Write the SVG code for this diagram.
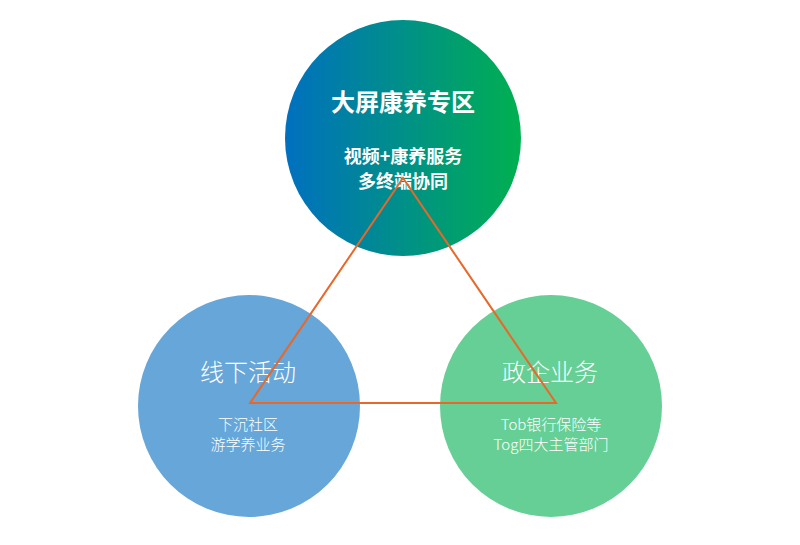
<svg xmlns="http://www.w3.org/2000/svg" width="800" height="545" viewBox="0 0 800 545">
<defs>
<linearGradient id="g" x1="0" y1="0" x2="1" y2="0">
<stop offset="0" stop-color="#0070c0"/><stop offset="1" stop-color="#00b050"/>
</linearGradient>
<style>
text{font-family:"Microsoft YaHei","Noto Sans CJK SC",sans-serif;fill:#fff;text-anchor:middle}
.b{font-weight:bold}
.t{font-size:24px;font-weight:300}
.s{font-size:15px;font-weight:300}
</style>
</defs>
<rect width="800" height="545" fill="#fff"/>
<g id="top"><circle cx="403" cy="138" r="118" fill="url(#g)"/>
<text class="b" x="403" y="111" font-size="24">大屏康养专区</text>
<text class="b" x="403" y="163" font-size="18">视频+康养服务</text>
<text class="b" x="403" y="188" font-size="18">多终端协同</text></g>
<g id="left"><circle cx="249" cy="406" r="111" fill="#66a6d8"/>
<text class="t" x="248" y="381">线下活动</text>
<text class="s" x="248" y="430">下沉社区</text>
<text class="s" x="248" y="450">游学养业务</text></g>
<g id="right"><circle cx="551" cy="406" r="111" fill="#66cf95"/>
<text class="t" x="550" y="381">政企业务</text>
<text class="s" x="551" y="430">Tob银行保险等</text>
<text class="s" x="551" y="450">Tog四大主管部门</text></g>
<g id="connectors"><polygon points="403,178 250,403 556,403" fill="none" stroke="#e8682a" stroke-width="2"/></g>
</svg>
